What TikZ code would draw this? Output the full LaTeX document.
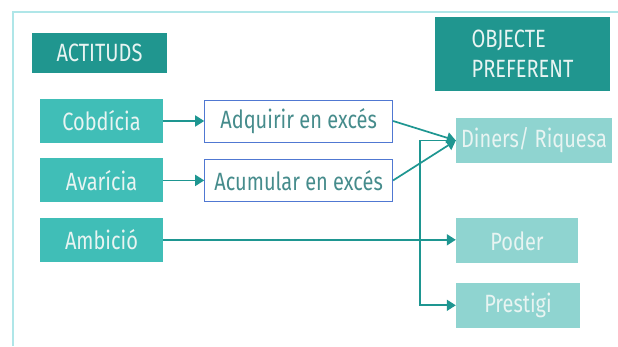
\documentclass[tikz,border=0pt]{standalone}
\usepackage{fontspec}
\setmainfont{Fira Sans}[FakeStretch=0.8]
\usetikzlibrary{arrows.meta,positioning}
\definecolor{tealdark}{RGB}{32,150,143}
\definecolor{tealmid}{RGB}{64,190,183}
\definecolor{teallight}{RGB}{143,212,208}
\definecolor{linkteal}{RGB}{30,150,145}
\definecolor{actionblue}{RGB}{80,120,210}
\definecolor{actiontext}{RGB}{70,140,140}
\definecolor{boxtext}{RGB}{232,244,242}
\definecolor{framecyan}{RGB}{175,230,232}
\tikzset{
  header/.style={fill=tealdark, text=boxtext, inner sep=0pt},
  attitude/.style={fill=tealmid, text=boxtext, minimum width=123pt, minimum height=44pt, inner sep=0pt},
  action/.style={draw=actionblue, fill=white, text=actiontext, line width=0.9pt,
    minimum width=188pt, minimum height=42pt, inner sep=0pt},
  object/.style={fill=teallight, text=boxtext, minimum height=45pt, inner sep=0pt},
  link/.style={draw=linkteal, line width=1.7pt, -{Triangle[length=9pt,width=11pt]}}
}
\newcommand\boxfont{\fontsize{25}{30}\selectfont}

\begin{document}
\begin{tikzpicture}[x=1pt, y=-1pt, font=\boxfont]
  \useasboundingbox (0,0) rectangle (618,346);
  \draw[framecyan, line width=1.2pt] (13,346) -- (13,12) -- (618,12);

  \node[header, minimum width=135pt, minimum height=40pt] (actituds) at (99.5,53) {ACTITUDS};
  \node[header, minimum width=175pt, minimum height=74pt, align=left] (objecte) at (522.5,54) {OBJECTE\\PREFERENT};

  \node[attitude] (cobdicia) at (101.5,121) {Cobdícia};
  \node[attitude, below=15pt of cobdicia] (avaricia) {Avarícia};
  \node[attitude, below=15pt of avaricia] (ambicio) {Ambició};

  \node[action, right=41pt of cobdicia] (adquirir) {Adquirir en excés};
  \node[action, right=41pt of avaricia] (acumular) {Acumular en excés};

  \node[object, minimum width=156pt] (diners) at (534,140.5) {Diners/ Riquesa};
  \node[object, minimum width=122pt, below right=55pt and 0pt of diners.south west] (poder) {Poder};
  \node[object, minimum width=124pt, below right=19pt and 0pt of poder.south west] (prestigi) {Prestigi};

  \coordinate (split) at ([xshift=-36pt]diners.west);

  \draw[link] (cobdicia) -- (adquirir);
  \draw[link] (avaricia) -- (acumular);
  \draw[link] (adquirir.east) -- (diners.west);
  \draw[link] (acumular.east) -- (diners.west);
  \draw[link] (ambicio) -- (ambicio -| poder.west);
  \draw[link] (diners.west) -- (split) |- (prestigi.west);
\end{tikzpicture}
\end{document}
